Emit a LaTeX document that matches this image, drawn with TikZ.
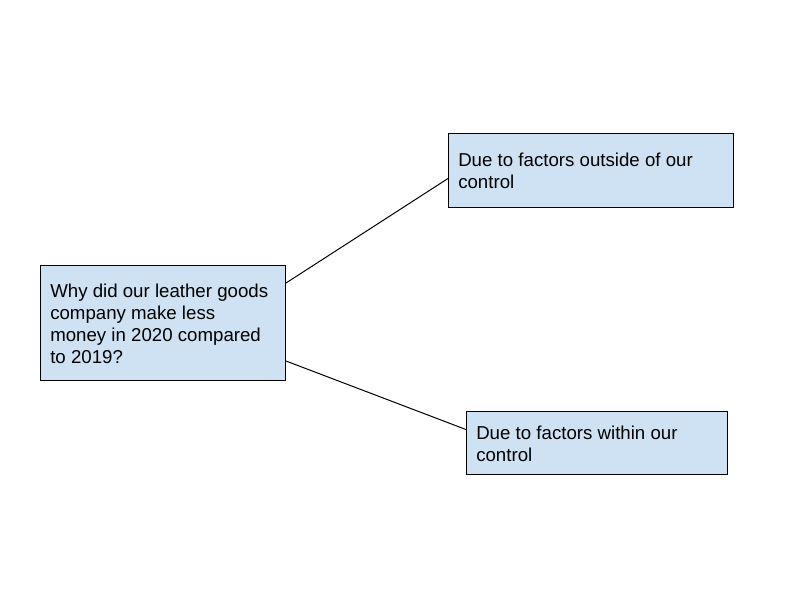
\documentclass[tikz,border=0pt]{standalone}
\usepackage{fontspec}
\setmainfont{Liberation Sans}
\definecolor{boxblue}{HTML}{CFE2F3}
\begin{document}
\begin{tikzpicture}[x=0.75pt,y=-0.75pt,
  box/.style={draw=black,fill=boxblue,line width=0.75pt,inner sep=0pt,anchor=north west},
  txt/.style={anchor=base west,inner sep=0pt,align=left,font=\fontsize{14}{16.5}\selectfont},
  link/.style={draw=black,line width=0.75pt}]
\useasboundingbox (0,0) rectangle (800,600);
\fill[white] (0,0) rectangle (800,600);
% boxes
\node[box,minimum width=183.75pt,minimum height=86.25pt] (q) at (40,265) {};
\node[box,minimum width=213.75pt,minimum height=55.5pt] (o) at (448,133) {};
\node[box,minimum width=195.75pt,minimum height=47.25pt] (w) at (466,411) {};
% texts (anchored at the baseline of the last line)
\node[txt] (qt) at (50,363) {Why did our leather goods\\company make less\\money in 2020 compared\\to 2019?};
\node[txt] (ot) at (458,188) {Due to factors outside of our\\control};
\node[txt] (wt) at (476,461) {Due to factors within our\\control};
% connectors
\draw[link] ([yshift=-13.5pt]q.north east) -- ([yshift=-6pt]o.west);
\draw[link] ([yshift=15pt]q.south east) -- ([yshift=10.1pt]w.west);
\end{tikzpicture}
\end{document}
